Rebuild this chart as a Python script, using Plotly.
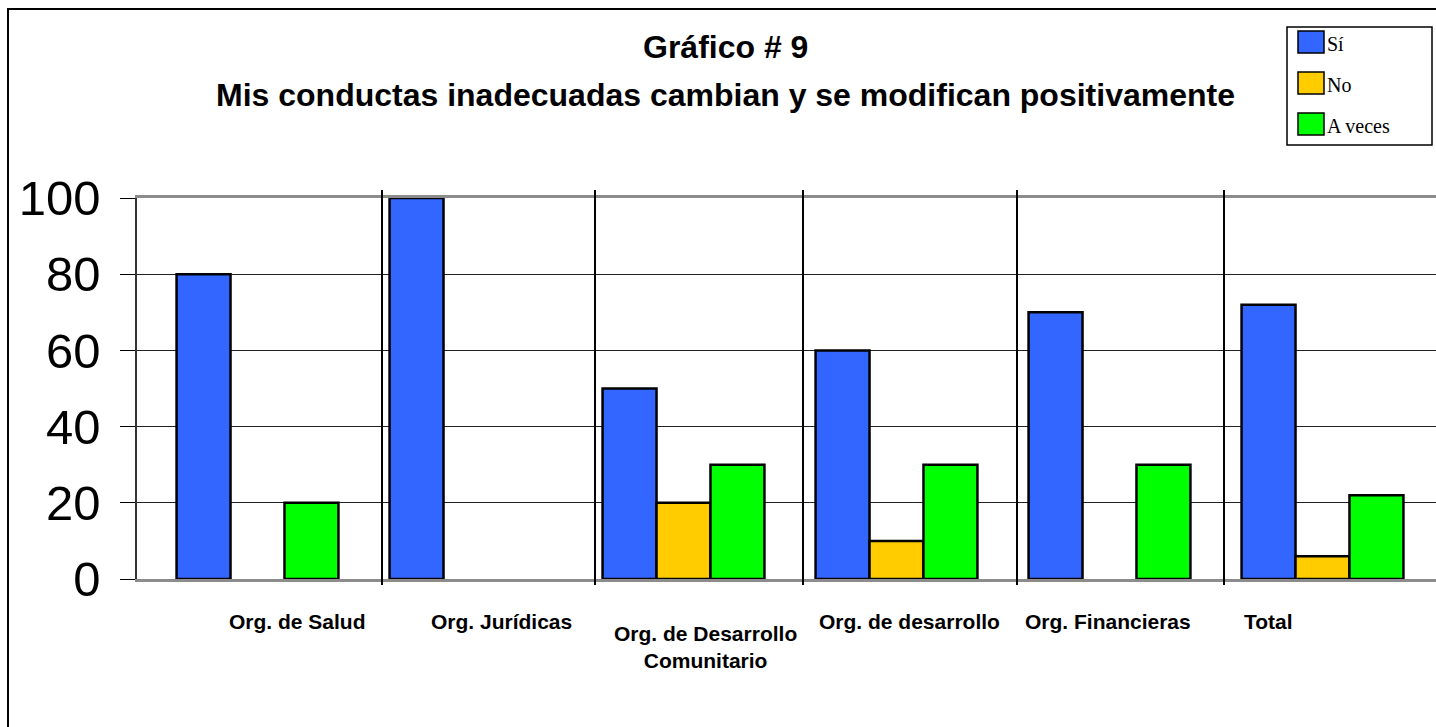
import plotly.graph_objects as go

categories = ["Org. de Salud", "Org. Jurídicas", "Org. de Desarrollo<br>Comunitario",
              "Org. de desarrollo", "Org. Financieras", "Total"]
series_names = ["Sí", "No", "A veces"]
si_values = [80, 100, 50, 60, 70, 72]
no_values = [None, None, 20, 10, None, 6]
aveces_values = [20, None, 30, 30, 30, 22]
y_ticks = [0, 20, 40, 60, 80, 100]

colors = ["#3366FF", "#FFCC00", "#00FF00"]

W, H = 1436, 727
L, R, T, B = 137, 1436, 198, 579


def px(x):
    return (x - L) / (R - L)


def py(y):
    return (B - y) / (B - T)


x_idx = list(range(len(categories)))
fig = go.Figure()
for name, vals, col in zip(series_names, [si_values, no_values, aveces_values], colors):
    fig.add_trace(go.Bar(x=x_idx, y=vals, name=name, marker=dict(color=col, line=dict(color="black", width=2.5)),
                         showlegend=False))

unit = 213.0
c0 = 257.5
xmin = -(c0 - L) / unit
xmax = xmin + (R - L) / unit

shapes = []
# category separators
for sx in [382, 595, 803, 1017, 1224]:
    shapes.append(dict(type="line", xref="paper", yref="paper", x0=px(sx), x1=px(sx),
                       y0=py(585), y1=py(190), line=dict(color="black", width=2)))
# outer border
shapes.append(dict(type="rect", xref="paper", yref="paper", x0=px(8), x1=px(1445), y0=py(740), y1=py(9),
                   line=dict(color="black", width=2), fillcolor="rgba(0,0,0,0)", layer="below"))
# legend box
shapes.append(dict(type="rect", xref="paper", yref="paper", x0=px(1287), x1=px(1432), y0=py(145), y1=py(27),
                   line=dict(color="black", width=1.5), fillcolor="white"))
annotations = []
leg_y = [42, 83, 124]
for name, col, ly in zip(series_names, colors, leg_y):
    shapes.append(dict(type="rect", xref="paper", yref="paper", x0=px(1298), x1=px(1324), y0=py(ly + 11),
                       y1=py(ly - 11), line=dict(color="black", width=1.5), fillcolor=col))
    annotations.append(dict(text=name, xref="paper", yref="paper", x=px(1325), y=py(ly + 2), xanchor="left",
                            yanchor="middle", showarrow=False,
                            font=dict(family="Liberation Serif", size=20, color="black")))

# titles
annotations.append(dict(text="<b>Gráfico # 9</b>", xref="paper", yref="paper", x=px(725), y=py(47),
                        xanchor="center", yanchor="middle", showarrow=False,
                        font=dict(family="Liberation Sans", size=32, color="black")))
annotations.append(dict(text="<b>Mis conductas inadecuadas cambian y se modifican positivamente</b>",
                        xref="paper", yref="paper", x=px(725), y=py(95), xanchor="center", yanchor="middle",
                        showarrow=False, font=dict(family="Liberation Sans", size=32, color="black")))

# category labels
label_x = [297, 501, 705, 909, 1108, 1268]
label_y = [621, 621, 647, 621, 621, 621]
for lab, lx, ly in zip(categories, label_x, label_y):
    annotations.append(dict(text="<b>" + lab + "</b>", xref="paper", yref="paper", x=px(lx), y=py(ly),
                            xanchor="center", yanchor="middle", showarrow=False, align="center",
                            font=dict(family="Liberation Sans", size=21, color="black")))

fig.update_layout(
    width=W, height=H,
    margin=dict(l=L, r=W - R, t=T, b=H - B, autoexpand=False),
    paper_bgcolor="white", plot_bgcolor="white",
    barmode="group", bargap=0.24, bargroupgap=0,
    shapes=shapes, annotations=annotations,
    xaxis=dict(range=[xmin, xmax], showticklabels=False, showgrid=False, zeroline=False,
               showline=True, linecolor="#8c8c8c", linewidth=3, mirror=True, ticks=""),
    yaxis=dict(range=[0, 100], tickvals=y_ticks, showgrid=True, gridcolor="#222222", gridwidth=1,
               zeroline=False, showline=True, linecolor="#333333", linewidth=1.5,
               ticks="outside", ticklen=15, tickcolor="black", tickwidth=1,
               tickfont=dict(family="Liberation Sans", size=49, color="black"), ticklabelstandoff=10),
)

fig.write_html("out.html", config={"displayModeBar": False},
               post_script="document.body.style.margin='0';document.body.style.overflow='hidden';")
